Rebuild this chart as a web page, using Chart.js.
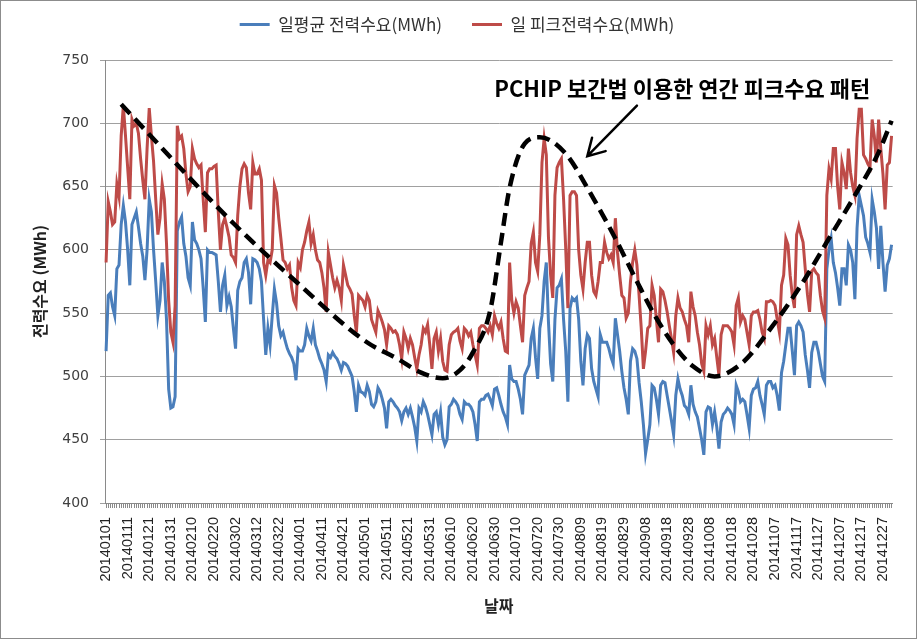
<!DOCTYPE html>
<html>
<head>
<meta charset="utf-8">
<script src="https://cdn.jsdelivr.net/npm/chart.js@4.4.1/dist/chart.umd.min.js"></script>
<style>
  html, body { margin: 0; padding: 0; background: #ffffff; }
  #wrap { width: 918px; height: 641px; }
</style>
</head>
<body>
<div id="wrap"><canvas id="c" width="918" height="641"></canvas></div>
<script>
// ---- DATA ----
const startDate = '2014-01-01';
const dayCount = 365;
const yTicks = [400, 450, 500, 550, 600, 650, 700, 750];
const seriesNames = ['일평균 전력수요(MWh)', '일 피크전력수요(MWh)'];

// daily average demand (MWh)
const avgDemand = [
  520, 564, 566, 555, 548, 585, 588,
  620, 635, 622, 600, 572, 620, 625,
  630, 618, 605, 595, 576, 600, 640,
  630, 600, 575, 548, 560, 590, 575,
  545, 490, 475, 476, 484, 615, 622,
  626, 605, 595, 578, 572, 622, 608,
  605, 600, 593, 570, 543, 600, 598,
  598, 597, 596, 575, 551, 572, 580,
  556, 563, 555, 538, 522, 568, 575,
  578, 590, 593, 582, 557, 593, 592,
  590, 585, 575, 545, 517, 538, 525,
  548, 569, 558, 540, 532, 535, 528,
  522, 518, 515, 510, 497, 522, 520,
  520, 525, 538, 532, 528, 538, 525,
  520, 514, 510, 505, 496, 517, 515,
  519, 516, 514, 510, 505, 511, 510,
  508, 504, 500, 488, 472, 493, 488,
  487, 485, 493, 488, 478, 476, 480,
  491, 488, 482, 475, 459, 480, 482,
  480, 477, 475, 472, 465, 472, 475,
  470, 475, 468, 460, 449, 475, 472,
  480, 476, 470, 462, 454, 470, 472,
  462, 472, 452, 446, 450, 476, 478,
  482, 480, 477, 470, 466, 480, 478,
  478, 476, 472, 462, 449, 480, 482,
  482, 485, 486, 482, 477, 490, 491,
  485, 478, 472, 468, 462, 509, 498,
  496, 496, 490, 482, 470, 501, 505,
  509, 530, 538, 515, 498, 538, 548,
  575, 590, 543, 510, 496, 545, 570,
  572, 577, 545, 520, 480, 554, 562,
  560, 562, 545, 512, 493, 522, 533,
  530, 506, 496, 490, 484, 533, 527,
  527, 527, 522, 515, 510, 546, 533,
  520, 504, 491, 482, 470, 512, 522,
  520, 514, 495, 480, 462, 439, 450,
  462, 493, 491, 482, 470, 493, 496,
  495, 485, 475, 465, 454, 485, 498,
  490, 485, 477, 475, 470, 493, 478,
  472, 468, 459, 450, 438, 472, 476,
  475, 462, 472, 460, 443, 464, 470,
  472, 475, 473, 470, 462, 493, 488,
  480, 482, 480, 470, 459, 485, 490,
  491, 496, 485, 478, 470, 493, 496,
  496, 491, 493, 485, 473, 503, 512,
  525, 538, 538, 520, 501, 540, 543,
  540, 535, 517, 505, 491, 519, 527,
  527, 520, 510, 500, 496, 585, 600,
  609, 590, 582, 570, 556, 585, 585,
  572, 604, 600, 590, 561, 617, 643,
  635, 627, 610, 605, 598, 640, 630,
  617, 585, 619, 590, 567, 588, 593,
  604
];

// daily peak demand (MWh)
const peakDemand = [
  590, 638, 630, 620, 622, 652, 642,
  690, 714, 690, 665, 640, 703, 698,
  700, 692, 672, 655, 640, 680, 712,
  690, 670, 640, 612, 625, 652, 640,
  605, 560, 535, 527, 556, 698, 688,
  690, 680, 660, 646, 650, 680, 672,
  668, 665, 667, 640, 614, 661, 664,
  664, 666, 667, 630, 600, 620, 625,
  618, 610, 596, 594, 590, 627, 650,
  664, 668, 665, 645, 632, 669, 660,
  660, 664, 655, 590, 580, 592, 590,
  600, 651, 645, 625, 609, 592, 590,
  585, 588, 570, 560, 556, 590, 586,
  600, 606, 615, 622, 605, 612, 600,
  592, 590, 582, 570, 551, 598, 588,
  578, 570, 576, 570, 560, 588, 580,
  572, 569, 565, 548, 535, 564, 562,
  560, 555, 564, 560, 545, 540, 535,
  552, 548, 543, 537, 525, 540, 538,
  535, 536, 533, 525, 514, 535, 530,
  522, 530, 525, 515, 506, 517, 525,
  538, 535, 541, 525, 506, 530, 535,
  520, 530, 512, 505, 504, 525, 533,
  535, 536, 538, 528, 522, 538, 536,
  532, 535, 525, 517, 509, 538, 540,
  540, 538, 535, 540, 533, 548, 542,
  538, 543, 530, 520, 519, 590, 560,
  550, 559, 554, 540, 527, 564, 570,
  575, 605, 614, 590, 583, 612, 669,
  688, 675, 610, 580, 562, 643, 665,
  669, 672, 640, 601, 554, 643, 646,
  646, 643, 600, 580, 569, 590, 606,
  606, 580, 567, 564, 575, 590, 590,
  606, 598, 593, 596, 590, 625, 598,
  580, 564, 562, 546, 550, 575, 590,
  600, 588, 564, 538, 506, 520, 538,
  540, 572, 564, 545, 527, 569, 567,
  560, 551, 540, 530, 519, 548, 562,
  554, 551, 545, 540, 527, 567, 555,
  548, 535, 525, 510, 504, 540, 533,
  540, 525, 530, 515, 501, 533, 540,
  540, 540, 538, 535, 525, 556, 562,
  543, 548, 545, 535, 525, 548, 551,
  551, 552, 545, 535, 530, 559, 559,
  560, 559, 556, 545, 535, 572, 580,
  609, 604, 580, 564, 554, 612, 619,
  612, 606, 585, 565, 551, 583, 585,
  582, 580, 564, 552, 546, 643, 664,
  656, 680, 680, 650, 632, 669, 661,
  648, 680, 661, 650, 643, 688, 711,
  711, 675, 672, 668, 665, 703, 690,
  669, 703, 680, 660, 632, 667, 669,
  690
];

// PCHIP annual peak pattern: knot day index and value
const pchipDays   = [7, 59, 88, 120, 135, 146, 156, 164, 170, 178, 183, 187, 194, 201, 213, 224, 236, 246, 254, 263, 272, 282, 295, 308, 322, 335, 347, 358, 364];
const pchipValues = [715, 621, 575, 528, 514, 503, 498.5, 505, 519, 552, 606, 649, 684, 689, 676, 646, 609, 575, 549, 525, 508, 500, 511, 538, 572, 609, 643, 677, 702];

const annotationText = 'PCHIP 보간법 이용한 연간 피크수요 패턴';
// ---- END DATA ----

// category labels YYYYMMDD
const labels = [];
{
  const d0 = new Date(startDate + 'T00:00:00Z');
  for (let i = 0; i < dayCount; i++) {
    const d = new Date(d0.getTime() + i * 86400000);
    const s = d.getUTCFullYear().toString() +
      String(d.getUTCMonth() + 1).padStart(2, '0') +
      String(d.getUTCDate()).padStart(2, '0');
    labels.push(s);
  }
}
const pchipSeries = new Array(dayCount).fill(null);
pchipDays.forEach((d, k) => { pchipSeries[d] = pchipValues[k]; });

const annotationPlugin = {
  id: 'annot',
  afterLayout(chart) {
    if (chart.legend) {
      chart.legend.top -= 17;
      chart.legend.bottom -= 17;
    }
  },
  beforeDraw(chart) {
    const ctx = chart.ctx;
    ctx.save();
    ctx.fillStyle = '#ffffff';
    ctx.fillRect(0, 0, chart.width, chart.height);
    ctx.restore();
  },
  afterDatasetsDraw(chart) {
    const ctx = chart.ctx;
    const xs = chart.scales.x, ys = chart.scales.y;
    ctx.save();
    ctx.font = 'bold 22px "Noto Sans CJK KR", sans-serif';
    ctx.fillStyle = '#000000';
    ctx.textAlign = 'center';
    ctx.textBaseline = 'middle';
    ctx.fillText(annotationText, xs.getPixelForValue(267), ys.getPixelForValue(727));
    const x1 = xs.getPixelForValue(246), y1 = ys.getPixelForValue(714);
    const x2 = xs.getPixelForValue(223), y2 = ys.getPixelForValue(674);
    ctx.strokeStyle = '#000000';
    ctx.lineWidth = 2.5;
    ctx.lineCap = 'round';
    ctx.beginPath();
    ctx.moveTo(x1, y1); ctx.lineTo(x2, y2);
    const ang = Math.atan2(y2 - y1, x2 - x1);
    const L = 19, spread = Math.PI / 6;
    ctx.moveTo(x2 - L * Math.cos(ang - spread), y2 - L * Math.sin(ang - spread));
    ctx.lineTo(x2, y2);
    ctx.lineTo(x2 - L * Math.cos(ang + spread), y2 - L * Math.sin(ang + spread));
    ctx.stroke();
    ctx.restore();
  },
  afterDraw(chart) {
    const ctx = chart.ctx;
    ctx.save();
    ctx.strokeStyle = '#8c8c8c';
    ctx.lineWidth = 1;
    ctx.strokeRect(0.5, 0.5, chart.width - 2, chart.height - 3);
    ctx.restore();
  }
};

new Chart(document.getElementById('c'), {
  type: 'line',
  data: {
    labels: labels,
    datasets: [
      {
        label: seriesNames[0],
        data: avgDemand,
        borderColor: '#4a7ebb',
        backgroundColor: '#4a7ebb',
        borderWidth: 3,
        pointRadius: 0,
        tension: 0,
        order: 2
      },
      {
        label: seriesNames[1],
        data: peakDemand,
        borderColor: '#be4b48',
        backgroundColor: '#be4b48',
        borderWidth: 3,
        pointRadius: 0,
        tension: 0,
        order: 1
      },
      {
        label: 'PCHIP',
        data: pchipSeries,
        borderColor: '#000000',
        borderWidth: 4.5,
        borderDash: [13, 7],
        pointRadius: 0,
        spanGaps: true,
        cubicInterpolationMode: 'monotone',
        order: 0
      }
    ]
  },
  options: {
    responsive: false,
    devicePixelRatio: 1,
    animation: false,
    layout: { padding: { top: 3, left: 16, right: 20, bottom: 0 } },
    plugins: {
      tooltip: { enabled: false },
      legend: {
        position: 'top',
        align: 'center',
        labels: {
          usePointStyle: true,
          pointStyle: 'line',
          pointStyleWidth: 30,
          padding: 30,
          color: '#333333',
          font: { family: '"Noto Sans CJK KR", sans-serif', size: 17 },
          filter: (item) => item.datasetIndex < 2,
          sort: (a, b) => a.datasetIndex - b.datasetIndex
        }
      }
    },
    scales: {
      x: {
        type: 'category',
        offset: true,
        afterFit: (s) => { s.height = 138; },
        grid: { display: true, drawOnChartArea: false, drawTicks: true, tickLength: 5, color: '#8a8a8a', offset: false },
        border: { display: true, color: '#8a8a8a', width: 1 },
        ticks: {
          autoSkip: false,
          maxRotation: 90,
          minRotation: 90,
          padding: 9,
          color: '#222222',
          font: { family: '"Liberation Sans", Arial, sans-serif', size: 14.5 },
          callback: function (val, idx) { return idx % 10 === 0 ? this.getLabelForValue(val) : ''; }
        },
        title: {
          display: true,
          text: '날짜',
          color: '#222222',
          font: { family: '"Noto Sans CJK KR", sans-serif', size: 16, weight: 'bold' },
          padding: { top: 0, bottom: 25 }
        }
      },
      y: {
        min: yTicks[0],
        max: yTicks[yTicks.length - 1],
        afterFit: (s) => { s.width = 89; },
        afterBuildTicks: (s) => { s.ticks = yTicks.map(v => ({ value: v })); },
        grid: { color: '#a0a0a0', lineWidth: 1, tickLength: 5, drawTicks: true },
        border: { display: true, color: '#8a8a8a', width: 1 },
        ticks: {
          padding: 11,
          color: '#404040',
          font: { family: '"DejaVu Sans", sans-serif', size: 14 }
        },
        title: {
          display: true,
          text: '전력수요 (MWh)',
          color: '#222222',
          font: { family: '"Noto Sans CJK KR", sans-serif', size: 16, weight: 'bold' },
          padding: { top: 14, bottom: 0 }
        }
      }
    }
  },
  plugins: [annotationPlugin]
});
</script>
</body>
</html>
